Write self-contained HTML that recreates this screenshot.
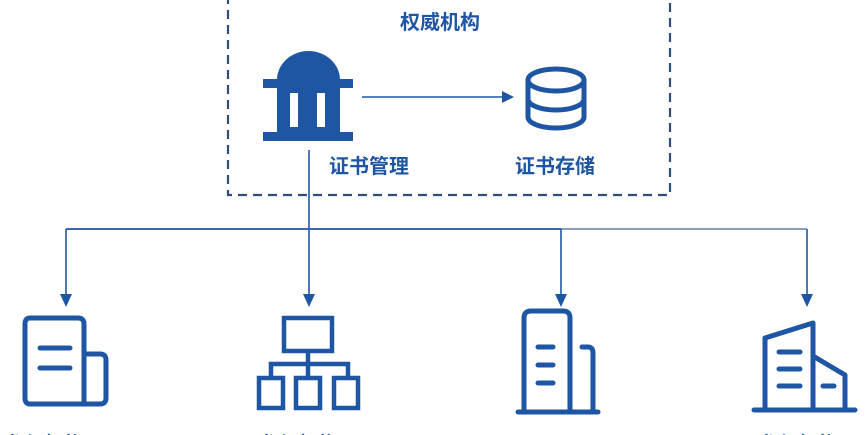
<!DOCTYPE html>
<html><head><meta charset="utf-8"><style>
html,body{margin:0;padding:0;background:#fff;width:868px;height:435px;overflow:hidden}
svg{display:block}
text{font-family:"Liberation Sans","Noto Sans CJK SC",sans-serif;font-weight:bold;fill:#1f56a3;font-size:20px}
</style></head><body>
<svg width="868" height="435" viewBox="0 0 868 435">
<g fill="none" stroke="#2f4f7a" stroke-width="2.2" stroke-dasharray="9,6">
<path d="M228,-5 V195 H670 V-5"/>
</g>
<text x="440" y="29" text-anchor="middle">权威机构</text>
<g fill="#1f56a3">
<path d="M277,80 A31.5,29 0 0 1 340,80 Z"/>
<rect x="263" y="79" width="90" height="9"/>
<rect x="277" y="87" width="63" height="46"/>
<rect x="263" y="132" width="90" height="9"/>
</g>
<rect x="290" y="93" width="8" height="34" fill="#fff"/>
<rect x="317" y="93" width="8" height="34" fill="#fff"/>
<line x1="362" y1="97" x2="505" y2="97" stroke="#1f56a3" stroke-width="1.6"/>
<path d="M514,97 L502,91 L502,103 Z" fill="#1f56a3"/>
<g fill="none" stroke="#1f56a3" stroke-width="5">
<ellipse cx="556" cy="80" rx="28" ry="11"/>
<path d="M528,80 V117 A28,11 0 0 0 584,117 V80"/>
<path d="M528,99 A28,11 0 0 0 584,99"/>
</g>
<text x="369" y="173" text-anchor="middle">证书管理</text>
<text x="555" y="173" text-anchor="middle">证书存储</text>
<g stroke="#1f56a3" stroke-width="1.6" fill="none">
<line x1="309" y1="150" x2="309" y2="296"/>
<line x1="66" y1="229" x2="807" y2="229" stroke="#8a9cc0" stroke-width="2"/>
<line x1="66" y1="229" x2="561" y2="229"/>
<line x1="66" y1="229" x2="66" y2="296"/>
<line x1="561" y1="229" x2="561" y2="296"/>
<line x1="807" y1="229" x2="807" y2="296"/>
</g>
<g fill="#1f56a3">
<path d="M66,307 L60,294 L72,294 Z"/>
<path d="M309,307 L303,294 L315,294 Z"/>
<path d="M561,307 L555,294 L567,294 Z"/>
<path d="M807,307 L801,294 L813,294 Z"/>
</g>
<g fill="none" stroke="#1f56a3" stroke-width="5" stroke-linecap="round" stroke-linejoin="round">
<path d="M30,318 H78 Q84,318 84,324 V404 H30 Q25,404 25,398 V324 Q25,318 30,318 Z"/>
<path d="M84,354 H100 Q106,354 106,360 V398 Q106,404 100,404 H84"/>
<line x1="40" y1="348" x2="70" y2="348"/>
<line x1="40" y1="368" x2="70" y2="368"/>
</g>
<g fill="none" stroke="#1f56a3" stroke-width="4.5">
<rect x="284" y="318" width="48" height="33"/>
<path d="M308,351 V364 M271,377 V364 H348 V377 M308,364 V377"/>
<rect x="259" y="378" width="24" height="30"/>
<rect x="296" y="378" width="24" height="30"/>
<rect x="334" y="378" width="24" height="30"/>
</g>
<g fill="none" stroke="#1f56a3" stroke-width="5" stroke-linecap="round" stroke-linejoin="round">
<path d="M524,410 V318 Q524,311 531,311 H563 Q570,311 570,318 V410"/>
<path d="M582,347 H588 Q593,347 593,353 V410"/>
<line x1="518" y1="412" x2="598" y2="412"/>
<line x1="538" y1="347" x2="553" y2="347"/>
<line x1="538" y1="365" x2="553" y2="365"/>
<line x1="538" y1="383" x2="553" y2="383"/>
</g>
<g fill="none" stroke="#1f56a3" stroke-width="5" stroke-linecap="round" stroke-linejoin="round">
<path d="M765,408 V338 L813,323 V408"/>
<path d="M813,356 L845,375 V408"/>
<line x1="754" y1="410" x2="855" y2="410"/>
<line x1="779" y1="352" x2="800" y2="352"/>
<line x1="779" y1="369" x2="800" y2="369"/>
<line x1="779" y1="386" x2="800" y2="386"/>
<line x1="823" y1="386" x2="834" y2="386"/>
</g>
<text x="4" y="451">参与机构1</text>
<text x="258" y="451">参与机构2</text>
<text x="758" y="451">参与机构N</text>
</svg>
</body></html>
